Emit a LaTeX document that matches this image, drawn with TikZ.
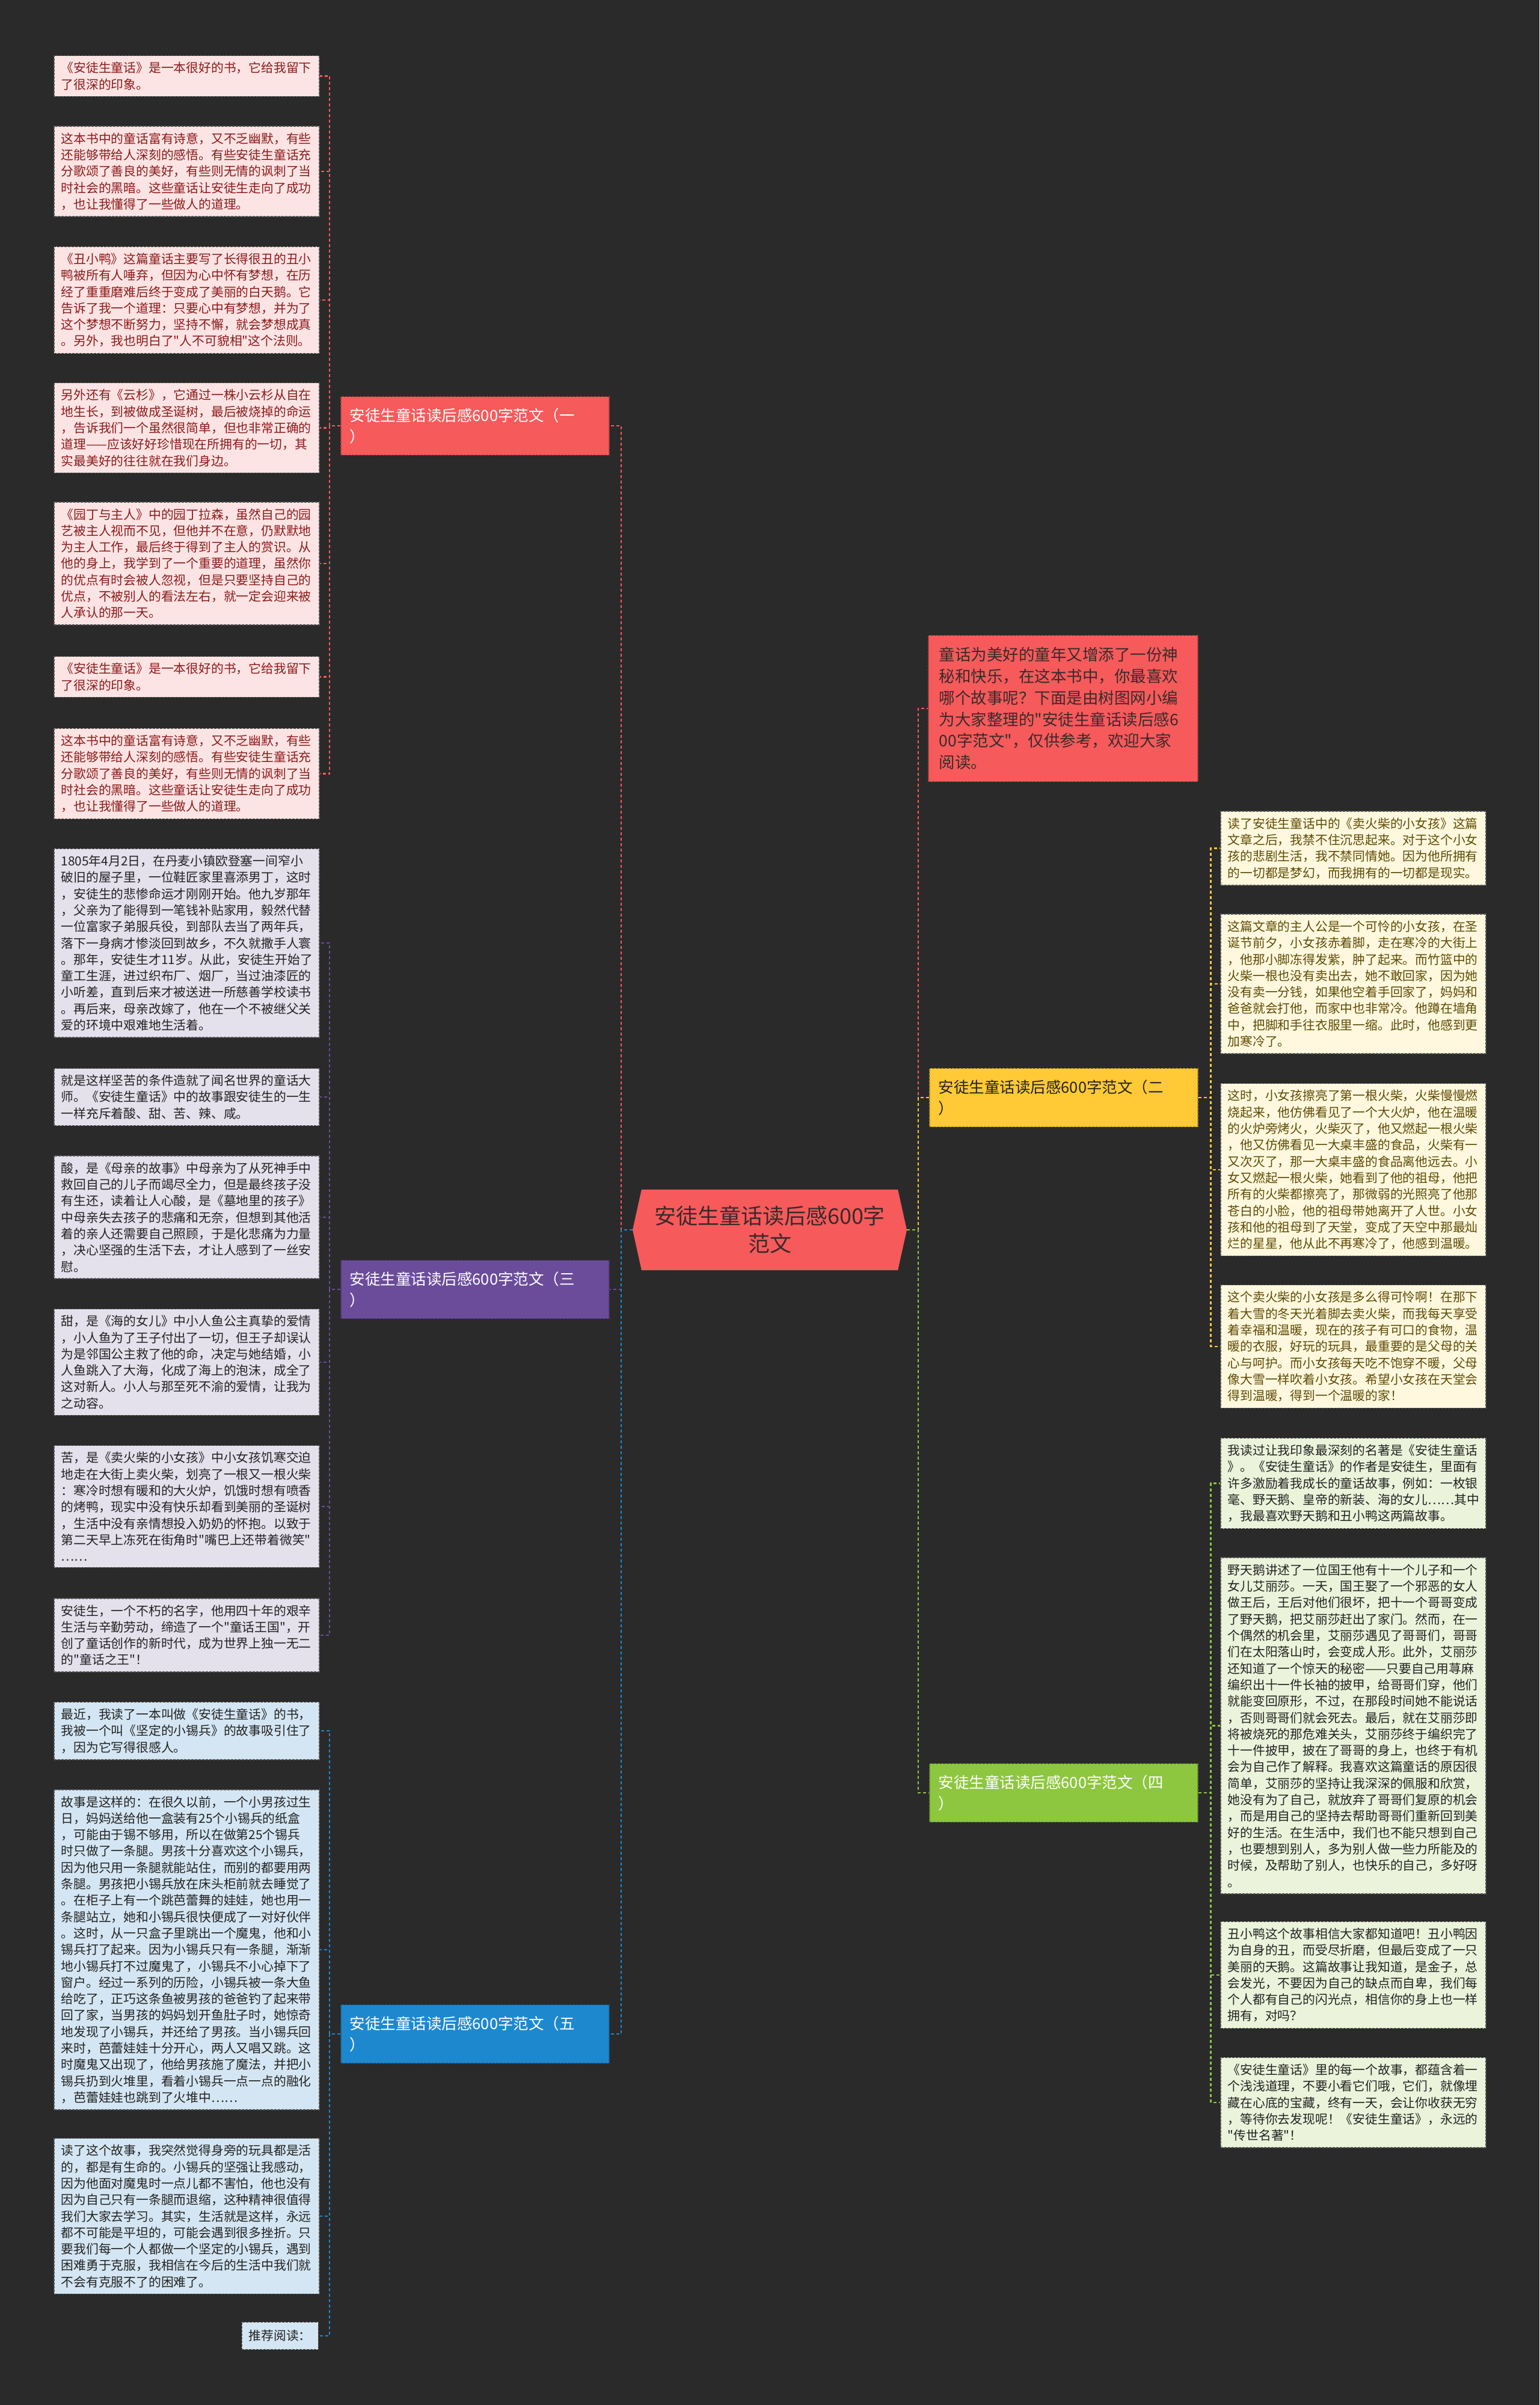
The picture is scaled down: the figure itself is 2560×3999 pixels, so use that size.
\documentclass[tikz,border=0pt]{standalone}
\usepackage{fontspec}
\setmainfont[Ligatures=TeXOff]{Noto Sans CJK SC}
\usetikzlibrary{shapes.symbols}

\definecolor{bg}{HTML}{2A2A2A}
\definecolor{redc}{HTML}{F65A5B}
\definecolor{purc}{HTML}{6B4C9A}
\definecolor{bluc}{HTML}{1E88CF}
\definecolor{yelc}{HTML}{FFCA35}
\definecolor{grnc}{HTML}{8DC63F}
\definecolor{pinkfill}{HTML}{FDE4E4}
\definecolor{lavfill}{HTML}{E4E0EC}
\definecolor{skyfill}{HTML}{D4E6F3}
\definecolor{creamfill}{HTML}{FFF8DE}
\definecolor{mintfill}{HTML}{EBF3DA}
\definecolor{darkred}{HTML}{8B1A1A}
\definecolor{olive}{HTML}{5E4A05}
\definecolor{ink}{HTML}{222222}
\definecolor{hubink}{HTML}{3A2A2A}

\tikzset{
  leaf/.style={rectangle, draw=black!65, dash pattern=on 4pt off 2pt, line width=1.5pt,
    text width=417pt, inner xsep=12pt, inner ysep=10.5pt, align=left,
    font=\fontsize{20.8}{27.3}\selectfont},
  pinkleaf/.style={leaf, fill=pinkfill, text=darkred, anchor=west},
  lavleaf/.style={leaf, fill=lavfill, text=ink, anchor=west},
  skyleaf/.style={leaf, fill=skyfill, text=ink, anchor=west},
  creamleaf/.style={leaf, fill=creamfill, text=olive, anchor=west},
  mintleaf/.style={leaf, fill=mintfill, text=ink, anchor=west},
  topic/.style={rectangle, fill=#1, draw=#1!70!black, dash pattern=on 4pt off 2pt, line width=1.5pt,
    text width=416pt, inner xsep=15pt, minimum height=97pt, align=left,
    font=\fontsize{25.5}{35}\selectfont},
  link/.style={dash pattern=on 5pt off 4pt, line width=2.5pt},
}

\begin{document}
\begin{tikzpicture}[x=1pt,y=-1pt]
    \fill[bg] (0,0) rectangle (2560,3999);

    % centre
    \node[signal, signal to=west and east, signal pointer angle=155, fill=redc, text=hubink,
      minimum width=456pt, minimum height=134pt, align=center,
      font=\fontsize{36}{46}\selectfont] (hub) at (1280,2045) {安徒生童话读后感600字\\范文};

    % topics
    \node[topic=redc, text=white, anchor=west] (b1) at (566,708) {安徒生童话读后感600字范文（一\\）};
    \node[topic=purc, text=white, anchor=west] (b3) at (566,2144) {安徒生童话读后感600字范文（三\\）};
    \node[topic=bluc, text=white, anchor=west] (b5) at (566,3382) {安徒生童话读后感600字范文（五\\）};
    \node[topic=yelc, text=ink, anchor=west] (b2) at (1545,1825) {安徒生童话读后感600字范文（二\\）};
    \node[topic=grnc, text=white, anchor=west] (b4) at (1545,2981) {安徒生童话读后感600字范文（四\\）};
    \node[topic=redc, text=hubink, anchor=west, text width=412pt, inner xsep=18pt, minimum height=243pt,
      font=\fontsize{26.5}{35.8}\selectfont] (intro) at (1543,1178) {童话为美好的童年又增添了一份神\\
秘和快乐，在这本书中，你最喜欢\\
哪个故事呢？下面是由树图网小编\\
为大家整理的"安徒生童话读后感6\\
00字范文"，仅供参考，欢迎大家\\
阅读。};

    % (一)
    \node[pinkleaf] (l1) at (89,126.5) {《安徒生童话》是一本很好的书，它给我留下\\
了很深的印象。};
    \node[pinkleaf] (l2) at (89,285) {这本书中的童话富有诗意，又不乏幽默，有些\\
还能够带给人深刻的感悟。有些安徒生童话充\\
分歌颂了善良的美好，有些则无情的讽刺了当\\
时社会的黑暗。这些童话让安徒生走向了成功\\
，也让我懂得了一些做人的道理。};
    \node[pinkleaf] (l3) at (89,499) {《丑小鸭》这篇童话主要写了长得很丑的丑小\\
鸭被所有人唾弃，但因为心中怀有梦想，在历\\
经了重重磨难后终于变成了美丽的白天鹅。它\\
告诉了我一个道理：只要心中有梦想，并为了\\
这个梦想不断努力，坚持不懈，就会梦想成真\\
。另外，我也明白了"人不可貌相"这个法则。};
    \node[pinkleaf] (l4) at (89,711.5) {另外还有《云杉》，它通过一株小云杉从自在\\
地生长，到被做成圣诞树，最后被烧掉的命运\\
，告诉我们一个虽然很简单，但也非常正确的\\
道理——应该好好珍惜现在所拥有的一切，其\\
实最美好的往往就在我们身边。};
    \node[pinkleaf] (l5) at (89,937) {《园丁与主人》中的园丁拉森，虽然自己的园\\
艺被主人视而不见，但他并不在意，仍默默地\\
为主人工作，最后终于得到了主人的赏识。从\\
他的身上，我学到了一个重要的道理，虽然你\\
的优点有时会被人忽视，但是只要坚持自己的\\
优点，不被别人的看法左右，就一定会迎来被\\
人承认的那一天。};
    \node[pinkleaf] (l6) at (89,1125.5) {《安徒生童话》是一本很好的书，它给我留下\\
了很深的印象。};
    \node[pinkleaf] (l7) at (89,1286.5) {这本书中的童话富有诗意，又不乏幽默，有些\\
还能够带给人深刻的感悟。有些安徒生童话充\\
分歌颂了善良的美好，有些则无情的讽刺了当\\
时社会的黑暗。这些童话让安徒生走向了成功\\
，也让我懂得了一些做人的道理。};

    % (三)
    \node[lavleaf] (l8) at (89,1568) {1805年4月2日，在丹麦小镇欧登塞一间窄小\\
破旧的屋子里，一位鞋匠家里喜添男丁，这时\\
，安徒生的悲惨命运才刚刚开始。他九岁那年\\
，父亲为了能得到一笔钱补贴家用，毅然代替\\
一位富家子弟服兵役，到部队去当了两年兵，\\
落下一身病才惨淡回到故乡，不久就撒手人寰\\
。那年，安徒生才11岁。从此，安徒生开始了\\
童工生涯，进过织布厂、烟厂，当过油漆匠的\\
小听差，直到后来才被送进一所慈善学校读书\\
。再后来，母亲改嫁了，他在一个不被继父关\\
爱的环境中艰难地生活着。};
    \node[lavleaf] (l9) at (89,1824) {就是这样坚苦的条件造就了闻名世界的童话大\\
师。《安徒生童话》中的故事跟安徒生的一生\\
一样充斥着酸、甜、苦、辣、咸。};
    \node[lavleaf] (l10) at (89,2024) {酸，是《母亲的故事》中母亲为了从死神手中\\
救回自己的儿子而竭尽全力，但是最终孩子没\\
有生还，读着让人心酸，是《墓地里的孩子》\\
中母亲失去孩子的悲痛和无奈，但想到其他活\\
着的亲人还需要自己照顾，于是化悲痛为力量\\
，决心坚强的生活下去，才让人感到了一丝安\\
慰。};
    \node[lavleaf] (l11) at (89,2265) {甜，是《海的女儿》中小人鱼公主真挚的爱情\\
，小人鱼为了王子付出了一切，但王子却误认\\
为是邻国公主救了他的命，决定与她结婚，小\\
人鱼跳入了大海，化成了海上的泡沫，成全了\\
这对新人。小人与那至死不渝的爱情，让我为\\
之动容。};
    \node[lavleaf] (l12) at (89,2505) {苦，是《卖火柴的小女孩》中小女孩饥寒交迫\\
地走在大街上卖火柴，划亮了一根又一根火柴\\
：寒冷时想有暖和的大火炉，饥饿时想有喷香\\
的烤鸭，现实中没有快乐却看到美丽的圣诞树\\
，生活中没有亲情想投入奶奶的怀抱。以致于\\
第二天早上冻死在街角时"嘴巴上还带着微笑"\\
……};
    \node[lavleaf] (l13) at (89,2719) {安徒生，一个不朽的名字，他用四十年的艰辛\\
生活与辛勤劳动，缔造了一个"童话王国"，开\\
创了童话创作的新时代，成为世界上独一无二\\
的"童话之王"！};

    % (五)
    \node[skyleaf] (l14) at (89,2878) {最近，我读了一本叫做《安徒生童话》的书，\\
我被一个叫《坚定的小锡兵》的故事吸引住了\\
，因为它写得很感人。};
    \node[skyleaf] (l15) at (89,3242) {故事是这样的：在很久以前，一个小男孩过生\\
日，妈妈送给他一盒装有25个小锡兵的纸盒\\
，可能由于锡不够用，所以在做第25个锡兵\\
时只做了一条腿。男孩十分喜欢这个小锡兵，\\
因为他只用一条腿就能站住，而别的都要用两\\
条腿。男孩把小锡兵放在床头柜前就去睡觉了\\
。在柜子上有一个跳芭蕾舞的娃娃，她也用一\\
条腿站立，她和小锡兵很快便成了一对好伙伴\\
。这时，从一只盒子里跳出一个魔鬼，他和小\\
锡兵打了起来。因为小锡兵只有一条腿，渐渐\\
地小锡兵打不过魔鬼了，小锡兵不小心掉下了\\
窗户。经过一系列的历险，小锡兵被一条大鱼\\
给吃了，正巧这条鱼被男孩的爸爸钓了起来带\\
回了家，当男孩的妈妈划开鱼肚子时，她惊奇\\
地发现了小锡兵，并还给了男孩。当小锡兵回\\
来时，芭蕾娃娃十分开心，两人又唱又跳。这\\
时魔鬼又出现了，他给男孩施了魔法，并把小\\
锡兵扔到火堆里，看着小锡兵一点一点的融化\\
，芭蕾娃娃也跳到了火堆中……};
    \node[skyleaf] (l16) at (89,3685) {读了这个故事，我突然觉得身旁的玩具都是活\\
的，都是有生命的。小锡兵的坚强让我感动，\\
因为他面对魔鬼时一点儿都不害怕，他也没有\\
因为自己只有一条腿而退缩，这种精神很值得\\
我们大家去学习。其实，生活就是这样，永远\\
都不可能是平坦的，可能会遇到很多挫折。只\\
要我们每一个人都做一个坚定的小锡兵，遇到\\
困难勇于克服，我相信在今后的生活中我们就\\
不会有克服不了的困难了。};
    \node[skyleaf, anchor=east, text width=104pt, inner xsep=11.5pt, inner ysep=13pt] (l17) at (530,3884) {推荐阅读：};

    % (二)
    \node[creamleaf] (r1) at (2029,1410.5) {读了安徒生童话中的《卖火柴的小女孩》这篇\\
文章之后，我禁不住沉思起来。对于这个小女\\
孩的悲剧生活，我不禁同情她。因为他所拥有\\
的一切都是梦幻，而我拥有的一切都是现实。};
    \node[creamleaf] (r2) at (2029,1636) {这篇文章的主人公是一个可怜的小女孩，在圣\\
诞节前夕，小女孩赤着脚，走在寒冷的大街上\\
，他那小脚冻得发紫，肿了起来。而竹篮中的\\
火柴一根也没有卖出去，她不敢回家，因为她\\
没有卖一分钱，如果他空着手回家了，妈妈和\\
爸爸就会打他，而家中也非常冷。他蹲在墙角\\
中，把脚和手往衣服里一缩。此时，他感到更\\
加寒冷了。};
    \node[creamleaf] (r3) at (2029,1945) {这时，小女孩擦亮了第一根火柴，火柴慢慢燃\\
烧起来，他仿佛看见了一个大火炉，他在温暖\\
的火炉旁烤火，火柴灭了，他又燃起一根火柴\\
，他又仿佛看见一大桌丰盛的食品，火柴有一\\
又次灭了，那一大桌丰盛的食品离他远去。小\\
女又燃起一根火柴，她看到了他的祖母，他把\\
所有的火柴都擦亮了，那微弱的光照亮了他那\\
苍白的小脸，他的祖母带她离开了人世。小女\\
孩和他的祖母到了天堂，变成了天空中那最灿\\
烂的星星，他从此不再寒冷了，他感到温暖。};
    \node[creamleaf] (r4) at (2029,2239) {这个卖火柴的小女孩是多么得可怜啊！在那下\\
着大雪的冬天光着脚去卖火柴，而我每天享受\\
着幸福和温暖，现在的孩子有可口的食物，温\\
暖的衣服，好玩的玩具，最重要的是父母的关\\
心与呵护。而小女孩每天吃不饱穿不暖，父母\\
像大雪一样吹着小女孩。希望小女孩在天堂会\\
得到温暖，得到一个温暖的家！};

    % (四)
    \node[mintleaf] (r5) at (2029,2466.5) {我读过让我印象最深刻的名著是《安徒生童话\\
》。《安徒生童话》的作者是安徒生，里面有\\
许多激励着我成长的童话故事，例如：一枚银\\
毫、野天鹅、皇帝的新装、海的女儿……其中\\
，我最喜欢野天鹅和丑小鸭这两篇故事。};
    \node[mintleaf] (r6) at (2029,2869.5) {野天鹅讲述了一位国王他有十一个儿子和一个\\
女儿艾丽莎。一天，国王娶了一个邪恶的女人\\
做王后，王后对他们很坏，把十一个哥哥变成\\
了野天鹅，把艾丽莎赶出了家门。然而，在一\\
个偶然的机会里，艾丽莎遇见了哥哥们，哥哥\\
们在太阳落山时，会变成人形。此外，艾丽莎\\
还知道了一个惊天的秘密——只要自己用荨麻\\
编织出十一件长袖的披甲，给哥哥们穿，他们\\
就能变回原形，不过，在那段时间她不能说话\\
，否则哥哥们就会死去。最后，就在艾丽莎即\\
将被烧死的那危难关头，艾丽莎终于编织完了\\
十一件披甲，披在了哥哥的身上，也终于有机\\
会为自己作了解释。我喜欢这篇童话的原因很\\
简单，艾丽莎的坚持让我深深的佩服和欣赏，\\
她没有为了自己，就放弃了哥哥们复原的机会\\
，而是用自己的坚持去帮助哥哥们重新回到美\\
好的生活。在生活中，我们也不能只想到自己\\
，也要想到别人，多为别人做一些力所能及的\\
时候，及帮助了别人，也快乐的自己，多好呀\\
。};
    \node[mintleaf] (r7) at (2029,3284) {丑小鸭这个故事相信大家都知道吧！丑小鸭因\\
为自身的丑，而受尽折磨，但最后变成了一只\\
美丽的天鹅。这篇故事让我知道，是金子，总\\
会发光，不要因为自己的缺点而自卑，我们每\\
个人都有自己的闪光点，相信你的身上也一样\\
拥有，对吗？};
    \node[mintleaf] (r8) at (2029,3496) {《安徒生童话》里的每一个故事，都蕴含着一\\
个浅浅道理，不要小看它们哦，它们，就像埋\\
藏在心底的宝藏，终有一天，会让你收获无穷\\
，等待你去发现呢！《安徒生童话》，永远的\\
"传世名著"！};

    % trunk
    \coordinate (lt) at (1033,2045);
    \coordinate (rt) at (1527,2045);
    \draw[link, redc] (hub.west) -- (lt) |- (b1.east);
    \draw[link, purc] (hub.west) -- (lt) |- (b3.east);
    \draw[link, bluc] (hub.west) -- (lt) |- (b5.east);
    \draw[link, redc] (hub.east) -- (rt) |- (intro.west);
    \draw[link, yelc] (hub.east) -- (rt) |- (b2.west);
    \draw[link, grnc] (hub.east) -- (rt) |- (b4.west);

    % leaves
    \foreach \i in {1,...,7} \draw[link, redc] (b1.west) -- ++(-18,0) |- (l\i.east);
    \foreach \i in {8,...,13} \draw[link, purc] (b3.west) -- ++(-18,0) |- (l\i.east);
    \foreach \i in {14,...,17} \draw[link, bluc] (b5.west) -- ++(-18,0) |- (l\i.east);
    \foreach \i in {1,...,4} \draw[link, yelc] (b2.east) -- ++(21,0) |- (r\i.west);
    \foreach \i in {5,...,8} \draw[link, grnc] (b4.east) -- ++(21,0) |- (r\i.west);
\end{tikzpicture}
\end{document}
